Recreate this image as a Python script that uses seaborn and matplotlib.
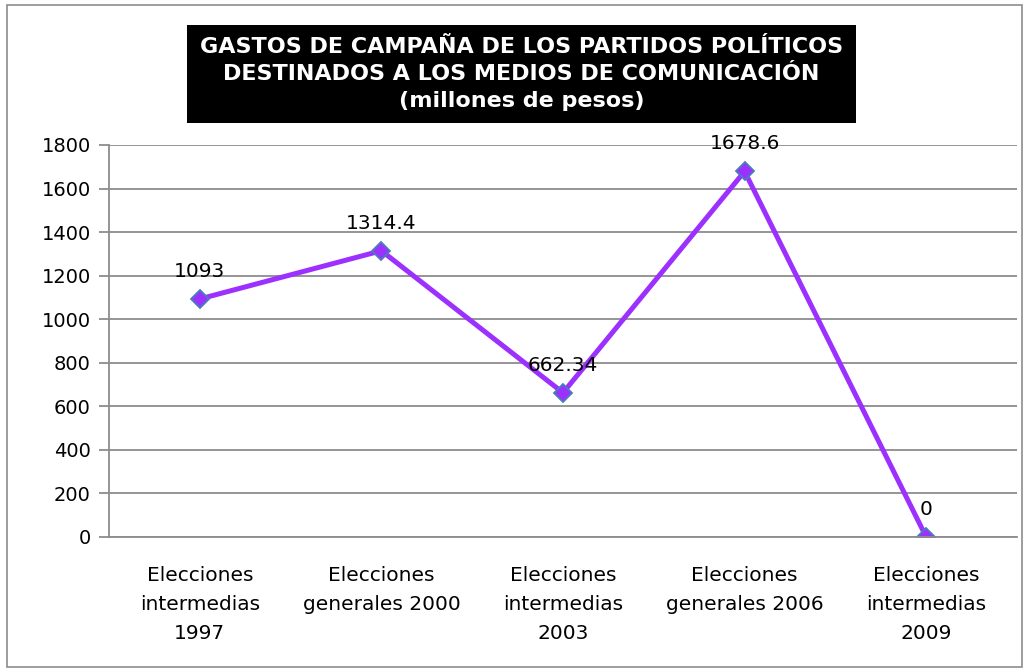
import matplotlib
matplotlib.use("Agg")
import matplotlib.pyplot as plt
import seaborn as sns
import pandas as pd
import numpy as np
from matplotlib.patches import Rectangle

categories = ["Elecciones\nintermedias\n1997", "Elecciones\ngenerales 2000",
              "Elecciones\nintermedias\n2003", "Elecciones\ngenerales 2006",
              "Elecciones\nintermedias\n2009"]
values = [1093, 1314.4, 662.34, 1678.6, 0]
value_labels = ["1093", "1314.4", "662.34", "1678.6", "0"]
yticks = [0, 200, 400, 600, 800, 1000, 1200, 1400, 1600, 1800]
title = "GASTOS DE CAMPAÑA DE LOS PARTIDOS POLÍTICOS\nDESTINADOS A LOS MEDIOS DE COMUNICACIÓN\n(millones de pesos)"

sns.set_theme(style="white")
plt.rcParams['font.family'] = ['DejaVu Sans']
plt.rcParams['text.color'] = 'black'
plt.rcParams['xtick.color'] = 'black'
plt.rcParams['ytick.color'] = 'black'

df = pd.DataFrame({"cat": categories, "val": values})

fig = plt.figure(figsize=(10.31, 6.70), dpi=100)
ax = fig.add_axes([109/1031, 1-537/670, (1017-109)/1031, (537-145)/670])

sns.lineplot(data=df, x="cat", y="val", ax=ax, color="#9B30FF", linewidth=3.6,
             marker="D", markersize=9.5, markerfacecolor="#9B30FF",
             markeredgecolor="#4A7EBB", markeredgewidth=1.3, sort=False)

ax.set_xlim(-0.5, len(categories) - 0.5)
ax.set_ylim(0, 1800)
ax.set_yticks(yticks)
ax.set_yticklabels([str(t) for t in yticks], fontsize=14, color="black")
ax.yaxis.grid(True, color="#8C8C8C", linewidth=1.3)
ax.set_axisbelow(True)
ax.set_xticks(range(len(categories)))
ax.set_xticklabels(categories, fontsize=14.5, linespacing=1.65, color="black")
ax.set_xticks(np.arange(-0.5, len(categories), 1.0), minor=True)
ax.tick_params(axis="x", which="major", length=0, pad=21)
ax.tick_params(axis="x", which="minor", length=8, width=1.3, color="#8C8C8C", direction="out")
ax.tick_params(axis="y", length=7, width=1.3, color="#8C8C8C", labelcolor="black",
               direction="out", left=True, pad=6)
ax.set_xlabel("")
ax.set_ylabel("")
for s in ["top", "right"]:
    ax.spines[s].set_visible(False)
for s in ["left", "bottom"]:
    ax.spines[s].set_color("#8C8C8C")
    ax.spines[s].set_linewidth(1.3)

for i, (v, lab) in enumerate(zip(values, value_labels)):
    ax.annotate(lab, (i, v), xytext=(0, 13), textcoords="offset points",
                ha="center", va="bottom", fontsize=14.5, color="black")

# title box
fig.patches.append(Rectangle((187/1031, 1-123/670), (856-187)/1031, (123-25)/670,
                             transform=fig.transFigure, facecolor="black", edgecolor="none"))
fig.text((187+856)/2/1031, 1-74/670, title, ha="center", va="center", color="white",
         fontsize=16, fontweight="bold", linespacing=1.45)

# outer border
fig.patches.append(Rectangle((7/1031, 3/670), 1015/1031, 662/670, transform=fig.transFigure,
                             facecolor="none", edgecolor="#8C8C8C", linewidth=1.2))

fig.savefig("out.png", dpi=100)
